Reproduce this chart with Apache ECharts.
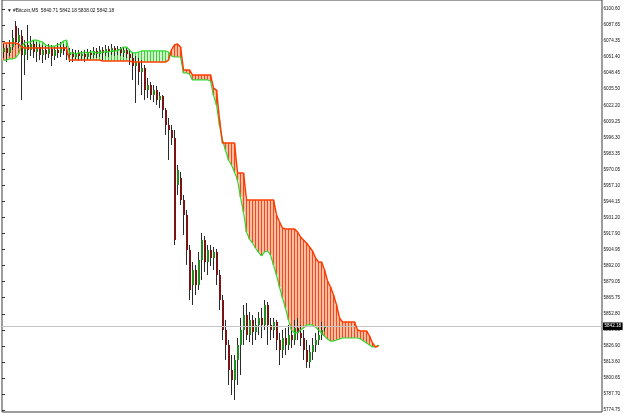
<!DOCTYPE html>
<html><head><meta charset="utf-8">
<script src="https://cdn.jsdelivr.net/npm/echarts/dist/echarts.min.js"></script>
<style>html,body{margin:0;padding:0;background:#fff}#c{width:625px;height:413px}</style>
</head><body><div id="c"></div>
<script>
const symbolName = '#Bitcoin,M5';
const tickLabels = ['6100.60','6087.65','6074.35','6061.40','6048.45','6035.50','6022.20','6009.25','5996.30','5983.35','5970.05','5957.10','5944.15','5931.20','5917.90','5904.95','5892.00','5879.05','5865.75','5852.80','5839.85','5826.90','5813.60','5800.65','5787.70','5774.75'];
const lastPrice = 5842.18;

const openArr = [6065.6,6068.8,6064.8,6069.6,6086.7,6073.7,6078.6,6063.1,6071.3,6067.2,6072.1,6065.6,6069.6,6063.1,6067.2,6063.9,6068.0,6062.3,6067.2,6064.8,6069.6,6066.4,6063.1,6065.6,6061.5,6064.8,6062.3,6063.9,6061.5,6064.8,6063.1,6066.4,6063.9,6067.2,6064.8,6068.0,6065.6,6068.8,6066.4,6068.0,6064.8,6067.2,6063.9,6060.7,6054.2,6057.4,6049.3,6052.5,6034.6,6038.7,6030.5,6034.6,6026.5,6029.7,6018.3,6006.1,6002.0,5995.5,5957.2,5962.9,5945.0,5932.8,5904.3,5875.8,5888.0,5875.8,5896.1,5912.4,5894.5,5904.3,5897.8,5902.6,5883.9,5863.5,5839.1,5826.9,5806.5,5798.4,5814.7,5826.9,5839.1,5851.3,5835.0,5847.3,5837.5,5843.2,5848.9,5843.2,5859.5,5843.2,5839.1,5845.6,5831.0,5822.8,5832.6,5826.9,5835.0,5831.0,5840.7,5836.7,5832.6,5822.8,5813.0,5821.2,5826.9,5831.0,5835.0,5840.71];
const closeArr = [6068.8,6064.8,6069.6,6077.0,6073.7,6079.4,6063.1,6071.3,6067.2,6072.1,6065.6,6069.6,6063.1,6067.2,6063.9,6068.0,6062.3,6067.2,6064.8,6069.6,6066.4,6063.1,6065.6,6061.5,6064.8,6062.3,6063.9,6061.5,6064.8,6063.1,6066.4,6063.9,6067.2,6064.8,6068.0,6065.6,6068.8,6066.4,6068.0,6064.8,6067.2,6063.9,6060.7,6054.2,6057.4,6049.3,6052.5,6034.6,6038.7,6030.5,6034.6,6026.5,6029.7,6018.3,6006.1,6002.0,5995.5,5912.4,5969.4,5945.0,5932.8,5904.3,5871.7,5888.0,5875.8,5896.1,5912.4,5894.5,5904.3,5897.8,5902.6,5883.9,5863.5,5839.1,5826.9,5806.5,5798.4,5814.7,5826.9,5839.1,5851.3,5835.0,5847.3,5837.5,5843.2,5848.9,5843.2,5859.5,5843.2,5839.1,5845.6,5831.0,5822.8,5832.6,5826.9,5835.0,5831.0,5840.7,5836.7,5832.6,5822.8,5813.0,5821.2,5826.9,5831.0,5835.0,5839.1,5842.18];
const lowArr = [6060.7,6057.4,6062.3,6067.2,6071.3,6068.8,6026.5,6046.8,6059.0,6062.3,6060.7,6057.4,6059.0,6056.6,6059.0,6060.7,6054.2,6059.0,6060.7,6061.5,6063.1,6059.0,6057.4,6057.4,6059.0,6058.2,6059.0,6057.4,6059.0,6059.9,6060.7,6060.7,6061.5,6059.0,6062.3,6061.5,6063.1,6062.3,6063.1,6062.3,6061.5,6060.7,6055.0,6042.8,6024.0,6038.7,6030.5,6026.5,6028.1,6026.5,6024.8,6022.4,6019.9,6011.8,5998.0,5977.6,5989.8,5908.3,5949.1,5940.9,5916.5,5892.1,5863.5,5859.5,5867.6,5871.7,5879.8,5886.4,5883.9,5891.2,5888.0,5875.8,5855.4,5831.0,5814.7,5794.3,5786.2,5782.1,5794.3,5802.4,5826.9,5831.0,5829.3,5826.9,5831.0,5835.0,5832.6,5839.1,5826.9,5831.0,5832.6,5822.8,5810.6,5816.3,5818.7,5822.8,5824.4,5826.9,5831.0,5826.1,5814.7,5808.2,5808.2,5814.7,5821.2,5826.9,5831.0,5838.02];
const highArr = [6072.1,6071.3,6075.3,6083.5,6090.8,6085.1,6083.5,6075.3,6087.6,6078.6,6075.3,6073.7,6072.1,6071.3,6070.4,6072.1,6071.3,6069.6,6072.9,6073.7,6072.1,6070.4,6068.8,6068.0,6067.2,6067.2,6066.4,6067.2,6068.0,6067.2,6069.6,6068.8,6070.4,6069.6,6071.3,6070.4,6072.1,6070.4,6070.4,6069.6,6069.6,6068.8,6067.2,6065.6,6062.3,6060.7,6059.0,6055.0,6044.4,6041.1,6038.7,6037.9,6033.0,6030.5,6019.9,6011.8,6006.1,6002.0,5973.5,5967.8,5949.1,5936.9,5908.3,5894.5,5892.1,5902.6,5918.1,5915.7,5908.3,5908.3,5906.7,5905.1,5888.0,5867.6,5847.3,5831.0,5818.7,5818.7,5832.6,5848.9,5859.5,5861.1,5853.8,5851.3,5848.9,5853.8,5857.0,5863.5,5861.9,5848.9,5848.9,5847.3,5836.7,5839.1,5840.7,5843.2,5842.4,5847.3,5848.9,5843.2,5839.1,5831.0,5826.9,5832.6,5836.7,5840.7,5845.6,5842.18];

const spanA = [6059.0,6059.0,6059.9,6059.9,6060.7,6063.9,6070.4,6072.9,6073.7,6073.7,6075.3,6075.3,6074.5,6073.7,6071.3,6070.4,6070.4,6070.4,6071.3,6072.1,6074.5,6075.3,6064.8,6064.8,6063.9,6064.8,6064.8,6065.6,6064.8,6065.6,6065.6,6064.8,6064.8,6065.6,6065.6,6065.6,6066.4,6066.4,6066.4,6068.0,6069.6,6069.6,6067.2,6064.8,6064.8,6065.6,6066.4,6066.4,6066.4,6066.4,6066.4,6066.4,6066.4,6066.4,6066.4,6065.6,6062.3,6061.5,6061.5,6061.5,6048.5,6048.5,6047.6,6042.8,6042.8,6042.8,6042.8,6042.8,6042.8,6041.9,6030.5,6022.4,6006.1,5993.9,5985.7,5977.6,5973.5,5967.8,5961.3,5947.4,5935.2,5918.9,5913.2,5910.0,5905.9,5902.6,5899.4,5902.6,5903.5,5900.2,5892.1,5883.9,5874.1,5865.2,5857.0,5847.3,5839.1,5836.7,5836.7,5839.1,5840.7,5843.2,5843.2,5843.2,5841.6,5839.1,5836.7,5834.2,5831.8,5830.1,5830.1,5831.0,5831.8,5832.6,5832.6,5832.6,5832.6,5832.6,5832.6,5831.8,5830.1,5828.5,5826.9,5825.3,5825.3,5826.9];
const spanB = [6072.9,6072.9,6072.9,6072.9,6072.9,6072.1,6069.6,6068.8,6068.8,6068.8,6068.8,6068.8,6068.8,6068.8,6068.8,6068.8,6068.8,6068.8,6068.8,6068.8,6068.8,6068.8,6059.0,6059.0,6059.0,6059.0,6059.0,6059.0,6059.0,6059.0,6059.0,6059.0,6059.0,6058.2,6058.2,6058.2,6058.2,6058.2,6058.2,6058.2,6058.2,6058.2,6058.2,6057.4,6057.4,6057.4,6057.4,6057.4,6057.4,6057.4,6057.4,6057.4,6057.4,6057.4,6057.4,6059.0,6067.2,6071.3,6072.1,6069.6,6050.9,6050.9,6050.9,6046.8,6046.8,6046.8,6046.8,6046.8,6046.8,6046.8,6036.2,6034.6,6010.2,5991.4,5991.4,5991.4,5991.4,5991.4,5967.0,5967.0,5967.0,5945.0,5945.0,5945.0,5945.0,5945.0,5945.0,5945.0,5945.0,5945.0,5945.0,5932.8,5927.1,5922.2,5921.4,5921.4,5921.4,5921.4,5918.9,5914.9,5912.4,5910.0,5906.7,5903.5,5897.8,5894.5,5894.5,5888.0,5879.0,5874.1,5867.6,5859.5,5848.9,5845.6,5845.6,5845.6,5845.6,5845.6,5839.1,5838.3,5838.3,5838.3,5834.2,5828.5,5825.3,5826.1];

const SLOTS = 200;
const slots = Array.from({length: SLOTS}, (_, i) => String(i));
const candleData = openArr.map((o, i) => [i, o, closeArr[i], lowArr[i], highArr[i]]);
const cloudData = spanA.map((a, i) => [i, a, spanB[i]]);
const last = openArr.length - 1;

const chart = echarts.init(document.getElementById('c'), null, {renderer: 'canvas'});
chart.setOption({
  animation: false,
  backgroundColor: '#ffffff',
  title: {
    text: '\u25BC ' + symbolName + '  ' + openArr[last].toFixed(2) + ' ' + highArr[last].toFixed(2) + ' ' + lowArr[last].toFixed(2) + ' ' + closeArr[last].toFixed(2),
    left: 2, top: 3,
    textStyle: {fontSize: 4.8, fontWeight: 'normal', color: '#111', fontFamily: 'Liberation Sans'}
  },
  grid: [
    {left: 2, right: 23, top: 0, bottom: 1, show: true, borderColor: '#3c3c3c', borderWidth: 1, backgroundColor: 'transparent'},
    {left: 2, right: 23, top: 9, bottom: 3, show: false}
  ],
  xAxis: [
    {type: 'category', gridIndex: 0, data: slots, show: false, boundaryGap: true},
    {type: 'value', gridIndex: 1, show: false, min: 0, max: 1}
  ],
  yAxis: [
    {type: 'value', gridIndex: 0, min: 5772.30, max: 6107.92, show: false, splitLine: {show: false}},
    {type: 'category', gridIndex: 1, position: 'right', data: tickLabels, inverse: true, boundaryGap: false,
     axisLine: {show: false}, axisTick: {show: true, length: 3, lineStyle: {color: '#333'}},
     axisLabel: {interval: 0, fontSize: 4.6, color: '#111', margin: 1.5, fontFamily: 'Liberation Sans'},
     splitLine: {show: false}}
  ],
  series: [
    {
      type: 'custom', name: 'cloud', xAxisIndex: 0, yAxisIndex: 0, z: 2,
      data: cloudData, encode: {x: 0, y: [1, 2]},
      renderItem: function (params, api) {
        const i = api.value(0);
        const pa = api.coord([i, api.value(1)]);
        const pb = api.coord([i, api.value(2)]);
        const w = api.size([1, 0])[0];
        const top = Math.min(pa[1], pb[1]);
        const bot = Math.max(pa[1], pb[1]);
        const bull = api.value(1) >= api.value(2);
        const x = Math.round(pa[0] - 0.5) + 0.5;
        return {type: 'group', children: [
          {type: 'rect', shape: {x: pa[0] - w / 2, y: top, width: w, height: bot - top},
           style: {fill: bull ? '#d2f5cc' : '#fbbda2'}},
          {type: 'line', shape: {x1: x, y1: top, x2: x, y2: bot},
           style: {stroke: bull ? '#3ccf3c' : '#f04a1e', lineWidth: 1}}
        ]};
      }
    },
    {
      type: 'custom', name: 'price', xAxisIndex: 0, yAxisIndex: 0, z: 3,
      data: candleData, encode: {x: 0, y: [1, 2, 3, 4]},
      renderItem: function (params, api) {
        const i = api.value(0);
        const o = api.coord([i, api.value(1)]);
        const c = api.coord([i, api.value(2)]);
        const l = api.coord([i, api.value(3)]);
        const h = api.coord([i, api.value(4)]);
        const up = api.value(2) >= api.value(1);
        const x = Math.round(o[0] - 0.5) + 0.5;
        const top = Math.min(o[1], c[1]);
        const hgt = Math.max(1, Math.abs(o[1] - c[1]));
        return {type: 'group', children: [
          {type: 'line', shape: {x1: x, y1: h[1], x2: x, y2: l[1]}, style: {stroke: '#2a2a2a', lineWidth: 1}},
          {type: 'rect', shape: {x: x - 0.5, y: top, width: 2, height: hgt},
           style: {fill: up ? '#1e8c1e' : '#7a1414'}}
        ]};
      }
    },
    {
      type: 'line', name: 'Senkou A', data: spanA, xAxisIndex: 0, yAxisIndex: 0, z: 4,
      symbol: 'none', lineStyle: {color: '#2ed82e', width: 1.2}
    },
    {
      type: 'line', name: 'Senkou B', data: spanB, xAxisIndex: 0, yAxisIndex: 0, z: 5,
      symbol: 'none', lineStyle: {color: '#ff3c00', width: 1.5},
      markLine: {
        silent: true, symbol: 'none', animation: false,
        data: [{yAxis: lastPrice}],
        lineStyle: {color: '#c4c4c4', width: 1, type: 'solid'},
        label: {position: 'end', distance: 1, formatter: lastPrice.toFixed(2),
                backgroundColor: '#000', color: '#fff', fontSize: 4.6, padding: [1.5, 1.5, 1, 1.5],
                fontFamily: 'Liberation Sans'}
      }
    }
  ]
});
</script></body></html>
